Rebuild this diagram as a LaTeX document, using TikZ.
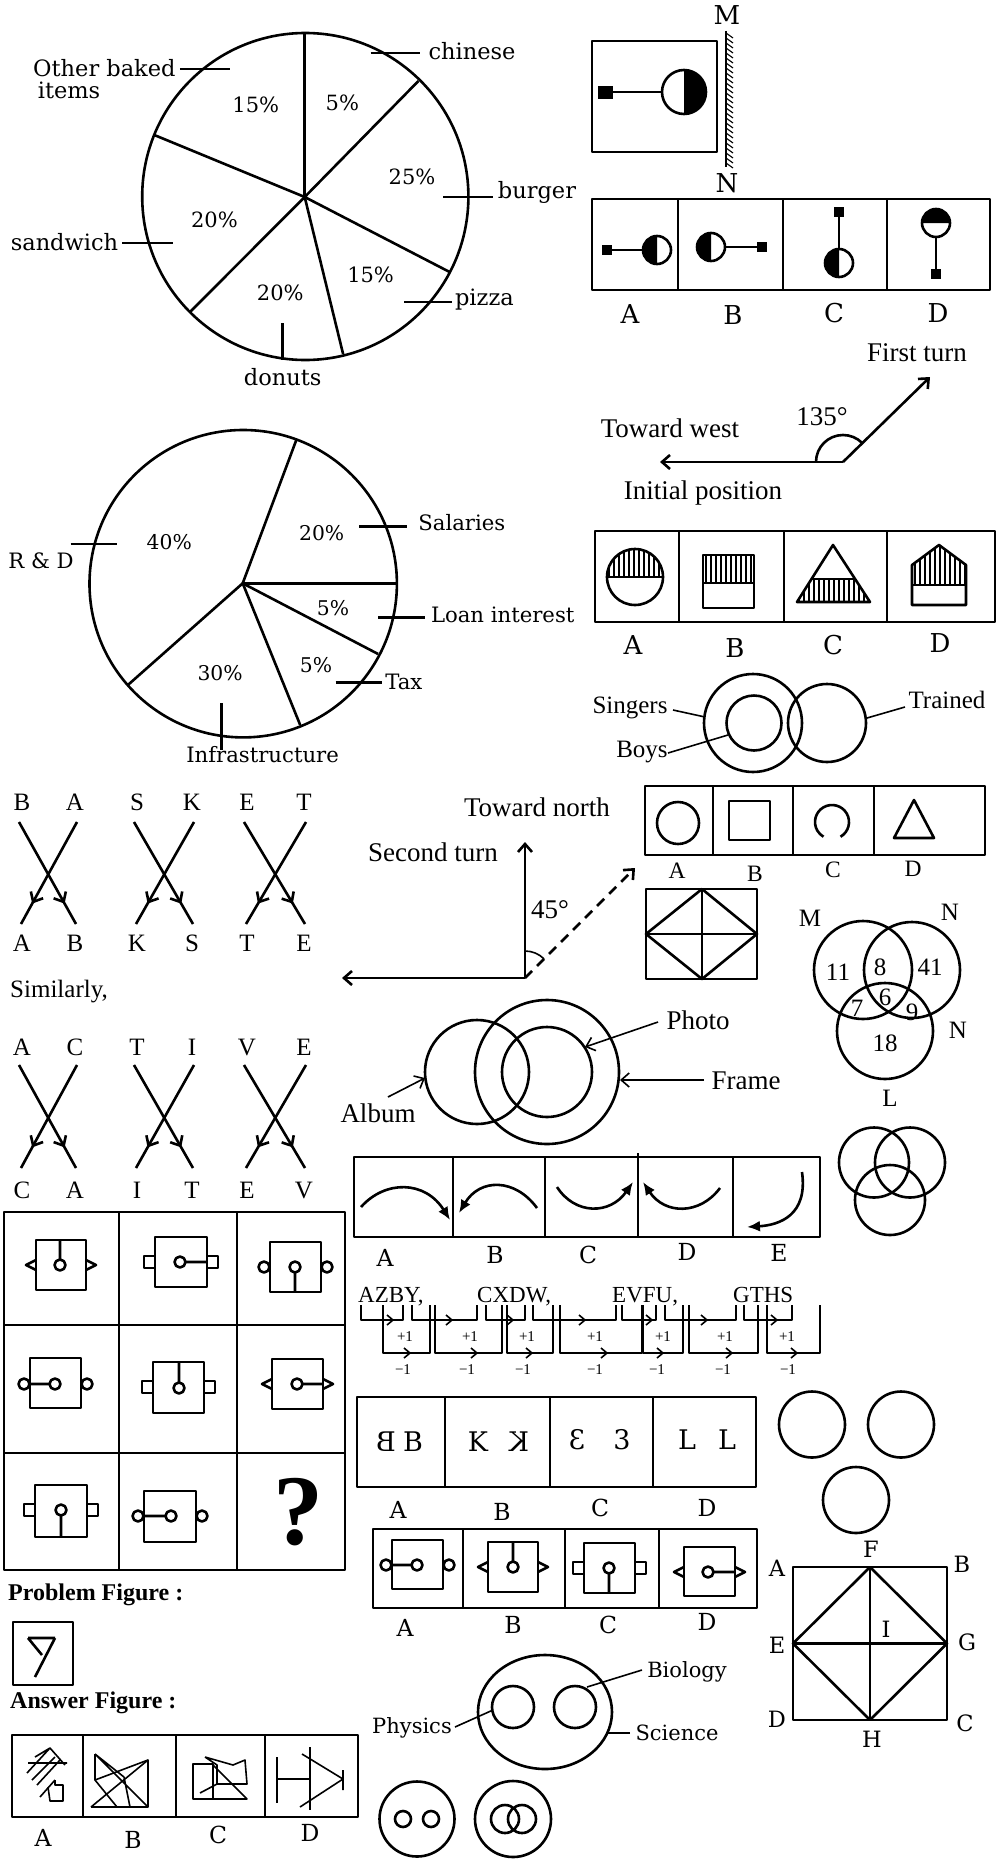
\documentclass[tikz,border=0pt]{standalone}
\usepackage{fontspec}
\usepackage{graphicx}
\usetikzlibrary{arrows.meta,decorations.markings,calc}
\newfontfamily\tnr{Liberation Serif}
\newfontfamily\dvs{DejaVu Serif}
\tikzset{
  ln/.style={line width=2.6pt},
  tln/.style={line width=1.6pt},
  hln/.style={line width=1.1pt},
  lpie/.style={font=\dvs\fontsize{22.5}{24}\selectfont, inner sep=0pt},
  lpiep/.style={font=\dvs\fontsize{21}{23}\selectfont, inner sep=0pt},
  lpieb/.style={font=\dvs\fontsize{21.2}{23}\selectfont, inner sep=0pt},
  lpiebp/.style={font=\dvs\fontsize{20.3}{22}\selectfont, inner sep=0pt},
  dvl/.style={font=\dvs\fontsize{26}{28}\selectfont, inner sep=0pt},
  dvm/.style={font=\dvs\fontsize{23.5}{25}\selectfont, inner sep=0pt},
  dvsq/.style={font=\dvs\fontsize{22.5}{24}\selectfont, inner sep=0pt},
  dvt/.style={font=\dvs\fontsize{21}{23}\selectfont, inner sep=0pt},
  dvx/.style={font=\dvs\fontsize{27}{29}\selectfont, inner sep=0pt},
  tnt/.style={font=\tnr\fontsize{27}{29}\selectfont, inner sep=0pt},
  tns/.style={font=\tnr\fontsize{25}{27}\selectfont, inner sep=0pt},
  tnsl/.style={font=\tnr\fontsize{23.5}{25}\selectfont, inner sep=0pt},
  tnser/.style={font=\tnr\fontsize{23}{25}\selectfont, inner sep=0pt},
  tnxs/.style={font=\tnr\fontsize{15}{16}\selectfont, inner sep=0pt},
  tnb/.style={font=\tnr\bfseries\fontsize{24}{26}\selectfont, inner sep=0pt},
  barb/.style={-{Straight Barb[length=8pt,width=14pt]}},
  solidtip/.style={-{Latex[length=13pt,width=11pt]}},
  midbarb/.style={postaction={decorate,decoration={markings,mark=at position #1 with {\arrow{Straight Barb[length=8pt,width=14pt]}}}}},
}
\begin{document}
\begin{tikzpicture}[x=1pt,y=-1pt,line join=round]
\useasboundingbox (0,0) rectangle (1006,1868);
\fill[white] (0,0) rectangle (1006,1868);

% ---------- Pie 1 ----------
\coordinate (pa) at (304.7,197);
\draw[ln] (305.3,196.5) ellipse[x radius=163.1pt,y radius=163.5pt];
\foreach \p in {(304.7,33),(418.4,81),(449.6,272),(343.1,354),(190,312),(154.3,135)} \draw[ln] (pa) -- \p;
\draw[ln] (370.6,53)--(419.5,53) (443.2,197)--(492.9,197) (404.4,302)--(451.5,302) (282.2,323)--(282.2,360) (122.3,243)--(173.1,243) (179.8,69)--(229.5,69);
\node[lpie] (chi) at (472,51) {chinese};
\node[lpie] (bur) at (537,192) {burger};
\node[lpie] (piz) at (484.4,300) {pizza};
\node[lpie] (don) at (282.7,377) {donuts};
\node[lpie] (san) at (64.5,242) {sandwich};
\node[lpie,anchor=west] (oth) at (33,68) {Other baked};
\node[lpie,anchor=west] (ite) at (37.6,90) {items};
\node[lpiep] (q1) at (255.8,105) {15\%};
\node[lpiep] (q2) at (342.4,103) {5\%};
\node[lpiep] (q3) at (412,177) {25\%};
\node[lpiep] (q4) at (214.4,220) {20\%};
\node[lpiep] (q5) at (370.6,275) {15\%};
\node[lpiep] (q6) at (280.3,293) {20\%};

% ---------- Mirror figure ----------
\draw[ln] (592,41) rectangle (717,152);
\fill (598,86) rectangle (613,99);
\draw[ln] (613,92) -- (662,92);
\fill (684,92) ++(90:22pt) arc[start angle=90,end angle=-90,radius=22pt] -- cycle;
\draw[ln] (684,92) circle[radius=22pt];
\draw[ln] (726,31) -- (726,167);
\foreach \y in {33,38,...,163} \draw[hln] (726,\y) -- (733,\y+5);
\node[dvl] (mM) at (727,15) {M};
\node[dvl] (mN) at (727,183) {N};
\draw[ln] (592,199) rectangle (990,290);
\draw[ln] (678,199)--(678,290) (783,199)--(783,290) (887,199)--(887,290);
\fill (602,245) rectangle (612,255);
\draw[ln] (612,250)--(643,250);
\fill (657,250) ++(90:14pt) arc[start angle=90,end angle=270,radius=14pt] -- cycle;
\draw[ln] (657,250) circle[radius=14pt];
\fill (711,247) ++(90:14pt) arc[start angle=90,end angle=270,radius=14pt] -- cycle;
\draw[ln] (711,247) circle[radius=14pt];
\draw[ln] (725,247)--(757,247);
\fill (757,242) rectangle (767,252);
\fill (834,207) rectangle (844,217);
\draw[ln] (839,217)--(839,249);
\fill (839,263) ++(90:14pt) arc[start angle=90,end angle=270,radius=14pt] -- cycle;
\draw[ln] (839,263) circle[radius=14pt];
\fill (936,223) ++(180:14pt) arc[start angle=180,end angle=0,radius=14pt] -- cycle;
\draw[ln] (936,223) circle[radius=14pt];
\draw[ln] (936,237)--(936,269);
\fill (931,269) rectangle (941,279);
\node[dvl] (oa) at (630,314) {A};
\node[dvl] (ob) at (733,315) {B};
\node[dvl] (oc) at (834,313) {C};
\node[dvl] (od) at (938,313) {D};

% ---------- Turn figure 1 ----------
\coordinate (v1) at (843,462);
\coordinate (w1) at (660,462);
\coordinate (f1) at (930,377);
\draw[ln,barb] (v1) -- (w1);
\draw[ln,barb] (v1) -- (f1);
\draw[ln] (v1) ++(180:27pt) arc[start angle=180,end angle=45,radius=27pt];
\node[tnt] (ft) at (917,353) {First turn};
\node[tnt] (a135) at (822,417) {135°};
\node[tnt] (tw) at (670,428) {Toward west};
\node[tnt] (ip) at (703,493) {Initial position};

% ---------- Hatched shapes ----------
\draw[ln] (595,531) rectangle (995,622);
\draw[ln] (679,531)--(679,622) (784,531)--(784,622) (887,531)--(887,622);
\begin{scope}
\clip (635,577) circle[radius=28pt];
\foreach \x in {609,614,...,662} \draw[hln] (\x,545)--(\x,577);
\end{scope}
\draw[ln] (635,577) circle[radius=28pt];
\draw[ln] (607,577)--(663,577);
\foreach \x in {706,711,...,752} \draw[hln] (\x,555)--(\x,583);
\draw[ln] (703,555) rectangle (754,608);
\draw[ln] (703,583)--(754,583);
\begin{scope}
\clip (833,545)--(870,602)--(797,602)--cycle;
\foreach \x in {799,804,...,870} \draw[hln] (\x,579)--(\x,602);
\end{scope}
\draw[ln] (833,545)--(870,602)--(797,602)--cycle;
\draw[ln] (811.5,579)--(855,579);
\begin{scope}
\clip (912,605)--(966,605)--(966,565)--(939,545)--(912,565)--cycle;
\foreach \x in {915,920,...,965} \draw[hln] (\x,545)--(\x,585);
\end{scope}
\draw[ln] (912,605)--(966,605)--(966,565)--(939,545)--(912,565)--cycle;
\draw[ln] (912,585)--(966,585);
\node[dvl] (ha) at (633,645) {A};
\node[dvl] (hb) at (735,648) {B};
\node[dvl] (hc) at (833,645) {C};
\node[dvl] (hd) at (940,643) {D};

% ---------- Singers Venn ----------
\draw[ln] (753,723) circle[radius=49pt];
\draw[ln] (754,723) circle[radius=27.5pt];
\draw[ln] (827,723) circle[radius=39pt];
\node[tns] (sing) at (630,708) {Singers};
\node[tns] (boys) at (642,752) {Boys};
\node[tns] (trai) at (947,700) {Trained};
\draw[tln] (673,710)--(705,717);
\draw[tln] (668,753)--(728,735);
\draw[tln] (905,707)--(867,718);

% ---------- Pie 2 ----------
\coordinate (pb) at (242.7,583.3);
\draw[ln] (243.2,583.7) ellipse[x radius=153.7pt,y radius=153.7pt];
\foreach \p in {(296.5,439.5),(396.9,583.3),(378.1,654),(300.2,725),(127.9,685)} \draw[ln] (pb) -- \p;
\draw[ln] (359.3,526.7)--(407.1,526.7) (378.1,617.3)--(425.1,617.3) (335.6,682.7)--(381.9,682.7) (221.2,703.3)--(221.2,750) (70.7,544)--(117.4,544);
\node[lpiebp] (r1) at (169.3,541.7) {40\%};
\node[lpiebp] (r2) at (321.7,533.3) {20\%};
\node[lpiebp] (r3) at (333,608.3) {5\%};
\node[lpiebp] (r4) at (316,665) {5\%};
\node[lpiebp] (r5) at (220.1,673.3) {30\%};
\node[lpieb] (sal) at (461.8,522.7) {Salaries};
\node[lpieb,anchor=west] (loan) at (430.8,615) {Loan interest};
\node[lpieb] (tax) at (403.8,681.7) {Tax};
\node[lpieb] (inf) at (262.6,755) {Infrastructure};
\node[lpieb] (rd) at (41,560.7) {R \& D};

% ---------- Letter crosses ----------
\foreach \xa/\xb/\lA/\lB/\lC/\lD in {22/75/B/A/A/B, 137/192/S/K/K/S, 247/304/E/T/T/E} {
  \node[tns] at (\xa,802) {\lA}; \node[tns] at (\xb,802) {\lB};
  \node[tns] at (\xa,943) {\lC}; \node[tns] at (\xb,943) {\lD};
  \draw[ln,midbarb=0.8] (\xa-3,822) -- (\xb+1,924);
  \draw[ln,midbarb=0.8] (\xb+2,822) -- (\xa-1,924);
}
\node[tns,anchor=west] (simi) at (10,992) {Similarly,};
\foreach \xa/\xb/\lA/\lB/\lC/\lD in {22/75/A/C/C/A, 137/192/T/I/I/T, 247/304/V/E/E/V} {
  \node[tns] at (\xa,1047) {\lA}; \node[tns] at (\xb,1047) {\lB};
  \node[tns] at (\xa,1190) {\lC}; \node[tns] at (\xb,1190) {\lD};
  \draw[ln,midbarb=0.8] (\xa-3,1065) -- (\xb+1,1168);
  \draw[ln,midbarb=0.8] (\xb+2,1065) -- (\xa-1,1168);
}

% ---------- Turn figure 2 ----------
\coordinate (v2) at (525,978);
\coordinate (w2) at (342,978);
\coordinate (n2) at (525,842);
\coordinate (d2) at (635,868);
\draw[ln,barb] (v2) -- (w2);
\draw[ln,barb] (v2) -- (n2);
\draw[ln,barb,dash pattern=on 10pt off 7pt] (v2) -- (d2);
\draw[tln] (v2) ++(90:27pt) arc[start angle=90,end angle=45,radius=27pt];
\node[tnt] (tn) at (537,807) {Toward north};
\node[tnt] (st) at (433,852) {Second turn};
\node[tnt] (a45) at (550,910) {45°};

% ---------- Shape options ----------
\draw[ln] (645,786) rectangle (985,855);
\draw[ln] (713,786)--(713,855) (793,786)--(793,855) (874,786)--(874,855);
\draw[ln] (678,823) circle[radius=21pt];
\draw[ln] (729,801) rectangle (770,840);
\draw[ln] (832,822) ++(-60:17pt) arc[start angle=-60,end angle=240,radius=17pt];
\draw[ln] (914,800)--(934,838)--(894,838)--cycle;
\node[tnsl] (sa) at (677,871) {A};
\node[tnsl] (sb) at (755,874) {B};
\node[tnsl] (sc) at (833,870) {C};
\node[tnsl] (sd) at (913,869) {D};

% ---------- Diamond box ----------
\draw[ln] (646,889) rectangle (757,979);
\draw[ln] (646,934)--(757,934) (702,889)--(702,979);
\draw[ln] (702,889)--(757,934)--(702,979)--(646,934)--cycle;

% ---------- Album Venn ----------
\draw[ln] (477,1072) circle[radius=52pt];
\draw[ln] (547,1072) circle[radius=72pt];
\draw[ln] (547,1072) circle[radius=45pt];
\node[tnt] (pho) at (698,1020) {Photo};
\node[tnt] (fra) at (746,1081) {Frame};
\node[tnt] (alb) at (378,1113) {Album};
\draw[tln,barb] (658,1022) -- (585,1047);
\draw[tln,barb] (704,1080) -- (620,1080);
\draw[tln,barb] (388,1097) -- (425,1078);

% ---------- MNL Venn ----------
\draw[ln] (863,970) circle[radius=49pt];
\draw[ln] (912,970) circle[radius=48pt];
\draw[ln] (885,1031) circle[radius=48pt];
\node[tns] (vm) at (810,918) {M};
\node[tns] (vn1) at (950,912) {N};
\node[tns] (vn2) at (958,1030) {N};
\node[tns] (vl) at (890,1098) {L};
\node[tns] at (838,972) {11};
\node[tns] at (880,967) {8};
\node[tns] at (930,967) {41};
\node[tns] at (885,997) {6};
\node[tns] at (857,1008) {7};
\node[tns] at (912,1012) {9};
\node[tns] at (885,1043) {18};

% ---------- Curved arrow options ----------
\draw[ln] (354,1157) rectangle (820,1237);
\draw[ln] (453,1157)--(453,1237) (545,1157)--(545,1237) (638,1153)--(638,1237) (733,1157)--(733,1237);
\draw[ln,solidtip] (361,1207) .. controls (385,1180) and (425,1180) .. (450,1220);
\draw[ln,solidtip] (537,1208) .. controls (515,1178) and (480,1178) .. (459,1213);
\draw[ln,solidtip] (557,1187) .. controls (575,1215) and (610,1215) .. (633,1182);
\draw[ln,solidtip] (720,1188) .. controls (700,1215) and (665,1215) .. (643,1182);
\draw[ln,solidtip] (802,1172) .. controls (808,1215) and (780,1225) .. (747,1227);
\node[dvm] (ca) at (385,1258) {A};
\node[dvm] (cb) at (495,1255) {B};
\node[dvm] (cc) at (588,1255) {C};
\node[dvm] (cd) at (687,1252) {D};
\node[dvm] (ce) at (779,1253) {E};

% ---------- Letter series ----------
\node[tnser,anchor=base west] (s1) at (358,1302) {AZBY,};
\node[tnser,anchor=base west] (s2) at (477,1302) {CXDW,};
\node[tnser,anchor=base west] (s3) at (612,1302) {EVFU,};
\node[tnser,anchor=base west] (s4) at (733,1302) {GTHS};
\foreach \a/\b/\c in {361/403/393, 412/477/452, 486/525/513, 533/616/585, 622/656/652, 665/736/707, 744/792/777} {
  \draw[tln] (\a,1305) -- (\a,1320) -- (\b,1320) -- (\b,1305);
  \draw[tln] (\c-6,1315) -- (\c,1320) -- (\c-6,1325);
}
\foreach \a/\b/\c in {383/430/410, 435/502/477, 507/553/532, 560/642/607, 643/683/663, 689/758/732, 767/820/797} {
  \draw[tln] (\a,1305) -- (\a,1353) -- (\b,1353) -- (\b,1305);
  \draw[tln] (\c-6,1348) -- (\c,1353) -- (\c-6,1358);
}
\foreach \x in {405,470,527,595,663,725,787} \node[tnxs] at (\x,1337) {+1};
\foreach \x in {403,467,523,595,657,723,788} \node[tnxs] at (\x,1370) {−1};

% ---------- Three circles ----------
\draw[ln] (874,1162.5) circle[radius=35pt];
\draw[ln] (910,1162.5) circle[radius=35pt];
\draw[ln] (890,1200) circle[radius=35pt];
\draw[ln] (812,1424.5) circle[radius=33pt];
\draw[ln] (901,1424.5) circle[radius=33pt];
\draw[ln] (856,1500) circle[radius=33pt];

% ---------- 3x3 grid ----------
\draw[ln] (4,1212) rectangle (345,1570);
\draw[ln] (119,1212)--(119,1570) (237,1212)--(237,1570) (4,1325)--(345,1325) (4,1453)--(345,1453);
\draw[ln] (36,1240) rectangle (86,1290);
\draw[ln] (60,1265) circle[radius=5.5pt] (60,1240)--(60,1259.5);
\draw[ln] (36,1260)--(26,1265)--(36,1270) (86,1260)--(96,1265)--(86,1270);
\draw[ln] (155,1237) rectangle (207,1287);
\draw[ln] (180,1262) circle[radius=5.5pt] (185.5,1262)--(207,1262);
\draw[ln] (144,1256) rectangle (155,1268) (207,1256) rectangle (218,1268);
\draw[ln] (270,1242) rectangle (321,1292);
\draw[ln] (295,1267) circle[radius=5.5pt] (295,1272.5)--(295,1292);
\draw[ln] (264,1267) circle[radius=5.5pt] (327,1267) circle[radius=5.5pt];
\draw[ln] (30,1358) rectangle (81,1408);
\draw[ln] (55,1384) circle[radius=5.5pt] (29.5,1384)--(49.5,1384);
\draw[ln] (24,1384) circle[radius=5.5pt] (87,1384) circle[radius=5.5pt];
\draw[ln] (153,1362) rectangle (204,1413);
\draw[ln] (179,1388) circle[radius=5.5pt] (179,1362)--(179,1382.5);
\draw[ln] (142,1381) rectangle (153,1393) (204,1381) rectangle (215,1393);
\draw[ln] (272,1359) rectangle (323,1409);
\draw[ln] (297,1384) circle[radius=5.5pt] (302.5,1384)--(323,1384);
\draw[ln] (272,1379)--(262,1384)--(272,1389) (323,1379)--(333,1384)--(323,1389);
\draw[ln] (35,1485) rectangle (87,1537);
\draw[ln] (61,1510) circle[radius=5.5pt] (61,1515.5)--(61,1537);
\draw[ln] (24,1504) rectangle (35,1516) (87,1504) rectangle (98,1516);
\draw[ln] (144,1491) rectangle (196,1542);
\draw[ln] (171,1516) circle[radius=5.5pt] (143.5,1516)--(165.5,1516);
\draw[ln] (138,1516) circle[radius=5.5pt] (202,1516) circle[radius=5.5pt];
\node[font=\tnr\bfseries\fontsize{100}{100}\selectfont,inner sep=0pt] (qm) at (298,1512) {?};

% ---------- Mirror letters ----------
\draw[ln] (357,1397) rectangle (756,1487);
\draw[ln] (445,1397)--(445,1487) (550,1397)--(550,1487) (653,1397)--(653,1487);
\node[dvx] at (386,1442) {\reflectbox{B}};
\node[dvx] at (413,1442) {B};
\node[dvx] at (478,1442) {K};
\node[dvx] at (519,1442) {\reflectbox{K}};
\node[dvx] at (577,1440) {\reflectbox{3}};
\node[dvx] at (622,1440) {3};
\node[dvx] at (687,1440) {L};
\node[dvx] at (727,1440) {L};
\node[dvm] (ma) at (398,1510) {A};
\node[dvm] (mb) at (502,1512) {B};
\node[dvm] (mc) at (600,1508) {C};
\node[dvm] (md) at (707,1508) {D};

% ---------- Gate options ----------
\draw[ln] (373,1529) rectangle (757,1608);
\draw[ln] (463,1529)--(463,1608) (565,1529)--(565,1608) (659,1529)--(659,1608);
\draw[ln] (392,1540) rectangle (443,1589);
\draw[ln] (417,1565) circle[radius=5.5pt] (391.5,1565)--(411.5,1565);
\draw[ln] (386,1565) circle[radius=5.5pt] (449,1565) circle[radius=5.5pt];
\draw[ln] (488,1542) rectangle (538,1592);
\draw[ln] (513,1567) circle[radius=5.5pt] (513,1542)--(513,1561.5);
\draw[ln] (488,1562)--(478,1567)--(488,1572) (538,1562)--(548,1567)--(538,1572);
\draw[ln] (584,1543) rectangle (635,1593);
\draw[ln] (609,1568) circle[radius=5.5pt] (609,1573.5)--(609,1593);
\draw[ln] (573,1562) rectangle (584,1574) (635,1562) rectangle (646,1574);
\draw[ln] (684,1547) rectangle (735,1596);
\draw[ln] (708,1572) circle[radius=5.5pt] (713.5,1572)--(735,1572);
\draw[ln] (684,1567)--(674,1572)--(684,1577) (735,1567)--(745,1572)--(735,1577);
\node[dvm] (ga) at (405,1628) {A};
\node[dvm] (gb) at (513,1625) {B};
\node[dvm] (gc) at (608,1625) {C};
\node[dvm] (gd) at (707,1622) {D};

% ---------- Science ----------
\draw[ln] (545,1712) ellipse[x radius=67pt,y radius=57pt];
\draw[ln] (513,1707) circle[radius=21pt];
\draw[ln] (575,1707) circle[radius=21pt];
\node[dvt] (bio) at (687,1672) {Biology};
\node[dvt] (phy) at (412,1728) {Physics};
\node[dvt] (sci) at (677,1733) {Science};
\draw[tln] (642,1670)--(587,1687);
\draw[tln] (455,1727)--(493,1710);
\draw[tln] (630,1733)--(607,1733);
\draw[ln] (417,1819) circle[radius=37.5pt];
\draw[ln] (403,1819) circle[radius=8pt] (431,1819) circle[radius=8pt];
\draw[ln] (513,1819) circle[radius=38pt];
\draw[ln] (505,1819) circle[radius=14pt] (522,1819) circle[radius=14pt];

% ---------- Square ABCD ----------
\draw[ln] (793,1567) rectangle (947,1720);
\draw[ln] (793,1643.5)--(947,1643.5) (870,1567)--(870,1720);
\draw[ln] (870,1567)--(947,1643.5)--(870,1720)--(793,1643.5)--cycle;
\node[dvsq] at (777,1568.5) {A};
\node[dvsq] at (962,1564) {B};
\node[dvsq] at (777,1645) {E};
\node[dvsq] at (967,1642.5) {G};
\node[dvsq] at (777,1719) {D};
\node[dvsq] at (965,1723.5) {C};
\node[dvsq] at (871,1549.5) {F};
\node[dvsq] at (872,1739.5) {H};
\node[dvsq] at (886,1629.5) {I};

% ---------- Problem / Answer figures ----------
\node[tnb,anchor=west] (pf) at (8,1595) {Problem Figure :};
\draw[ln] (13,1622) rectangle (73,1685);
\draw[ln] (28,1638)--(55,1638) (28,1638)--(42,1655) (55,1638)--(35,1677);
\node[tnb,anchor=west] (af) at (10,1703) {Answer Figure :};
\draw[ln] (12,1735) rectangle (358,1817);
\draw[ln] (83,1735)--(83,1817) (176,1735)--(176,1817) (265,1735)--(265,1817);
\draw[tln] (28,1763)--(67,1763) (35,1757)--(50,1748)--(65,1765) (27,1773)--(50,1748) (32,1780)--(55,1757) (37,1785)--(60,1760) (40,1797)--(55,1780);
\draw[tln] (48,1787)--(50,1801)--(63,1801)--(63,1785)--(55,1785)--(55,1780);
\draw[tln] (95,1754)--(95,1780)--(148,1760)--(148,1807)--(91,1807);
\draw[tln] (91,1807)--(148,1760) (95,1754)--(148,1807) (95,1780)--(117,1807) (124,1777)--(130,1807) (95,1754)--(124,1777);
\draw[tln] (193,1764) rectangle (213,1799);
\draw[tln] (205,1757)--(233,1765)--(245,1760)--(247,1784)--(217,1784)--(217,1765)--(205,1757);
\draw[tln] (213,1765)--(247,1799)--(193,1799) (200,1793)--(217,1784);
\draw[tln] (277,1757)--(277,1803) (277,1779)--(310,1779) (310,1747)--(310,1810);
\draw[tln] (302,1754)--(343,1779)--(300,1807) (343,1770)--(343,1790);
\node[dvm] (aa) at (43,1838) {A};
\node[dvm] (ab) at (133,1840) {B};
\node[dvm] (ac) at (218,1835) {C};
\node[dvm] (ad) at (310,1833) {D};
\end{tikzpicture}
\end{document}
